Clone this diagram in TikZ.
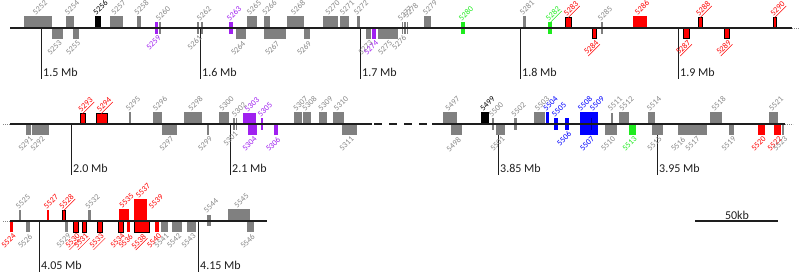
\documentclass[tikz,border=0pt]{standalone}
\usepackage{fontspec}
\setmainfont{Carlito}
\definecolor{ggray}{RGB}{128,128,128}
\definecolor{lgray}{RGB}{135,135,135}
\definecolor{pur}{RGB}{160,32,240}
\definecolor{grn}{RGB}{30,235,30}
\definecolor{blu}{RGB}{0,0,255}
\definecolor{dblu}{RGB}{0,0,150}
\definecolor{rd}{RGB}{255,0,0}
\definecolor{axc}{RGB}{30,30,30}
\tikzset{
  lab/.style={font=\fontsize{8.2}{9}\selectfont, inner sep=0pt, rotate=45, text=lgray},
  labu/.style={lab, anchor=base west, yshift=-1.2pt},
  labd/.style={lab, anchor=north east},
  gg/.style={fill=ggray},
  bk/.style={fill=black},
  pu/.style={fill=pur},
  grf/.style={fill=grn},
  bl/.style={fill=blu},
  rf/.style={fill=rd},
  rb/.style={fill=rd, draw=black, line width=0.8pt},
  axis/.style={draw=axc, line width=1.1pt},
  dots/.style={draw=lgray, line width=0.8pt, dash pattern=on 0.8pt off 1.2pt},
  tick/.style={draw=axc, line width=1pt},
  tl/.style={font=\fontsize{12}{13}\selectfont, inner sep=0pt, anchor=base west, text=axc},
}
\newcommand\gbox[5]{\fill[#5] (#1,#3) rectangle (#2,#4);}
\newcommand\labU[5]{\node[labu,#3] (n#4) at (#1,#2) {#5};}
\newcommand\labD[5]{\node[labd,#3] (n#4) at (#1,#2) {#5};}
\newcommand\tickmark[3]{\draw[tick] (#1,0) -- (#1,51); \node[tl] (t#2) at (#1+2,48) {#3};}
\begin{document}
\begin{tikzpicture}[x=1pt,y=-1pt]
\useasboundingbox (0,0) rectangle (800,273);
% ---------------- Row 1 ----------------
\begin{scope}[shift={(0,28)}]
\tickmark{41}{15}{1.5 Mb}
\tickmark{200}{16}{1.6 Mb}
\tickmark{360}{17}{1.7 Mb}
\tickmark{520}{18}{1.8 Mb}
\tickmark{678}{19}{1.9 Mb}
\gbox{24}{52}{-12}{0}{gg} \labU{35}{-13}{}{5252}{5252}
\gbox{52}{63}{0}{11}{gg} \labD{58.5}{12}{}{5253}{5253}
\gbox{66}{74}{-12}{0}{gg} \labU{67}{-13}{}{5254}{5254}
\gbox{73}{79}{0}{11}{gg} \labD{77}{12}{}{5255}{5255}
\gbox{95}{101}{-12}{0}{bk} \labU{95.5}{-13}{text=black}{5256}{5256}
\gbox{110}{123}{-12}{0}{gg} \labU{113.5}{-13}{}{5257}{5257}
\gbox{137}{141}{-12}{0}{gg} \labU{136.5}{-13}{}{5258}{5258}
\gbox{155}{158}{-6}{5.5}{pu} \labD{157.5}{6.5}{text=pur}{5259}{5259}
\gbox{159}{161}{-6}{5.5}{gg} \labU{158}{-7}{}{5260}{5260}
\gbox{196.5}{198.5}{-6}{5.5}{gg} \labD{198.5}{6.5}{}{5261}{5261}
\gbox{200.5}{202.5}{-6}{5.5}{gg} \labU{199}{-7}{}{5262}{5262}
\gbox{229}{233}{-6}{5.5}{pu} \labU{229}{-7}{text=pur}{5263}{5263}
\gbox{236}{246}{0}{11}{gg} \labD{242}{12}{}{5264}{5264}
\gbox{247}{257}{-12}{0}{gg} \labU{249}{-13}{}{5265}{5265}
\gbox{264}{270}{-12}{0}{gg} \labU{264.5}{-13}{}{5266}{5266}
\gbox{264}{286}{0}{11}{gg} \labD{276}{12}{}{5267}{5267}
\gbox{287}{304}{-12}{0}{gg} \labU{293}{-13}{}{5268}{5268}
\gbox{304}{310}{0}{11}{gg} \labD{308}{12}{}{5269}{5269}
\gbox{323}{338}{-12}{0}{gg} \labU{327.5}{-13}{}{5270}{5270}
\gbox{340}{349}{-12}{0}{gg} \labU{342}{-13}{}{5271}{5271}
\gbox{357}{359.5}{-12}{0}{gg} \labU{356}{-13}{}{5272}{5272}
\gbox{366}{371}{0}{11}{gg} \labD{369.5}{12}{}{5273}{5273}
\gbox{372}{376}{0}{11}{pu} \labD{375}{12}{text=pur}{5274}{5274}
\gbox{378}{398}{0}{11}{gg} \labD{389}{12}{}{5275}{5275}
\gbox{401.5}{403}{-6}{5.5}{gg} \labD{403}{6.5}{}{5276}{5276}
\gbox{404}{405.5}{-6}{5.5}{gg} \labU{400}{-7}{}{5277}{5277}
\gbox{406.5}{408}{-6}{5.5}{gg} \labU{406}{-10}{}{5278}{5278}
\gbox{424}{431}{-12}{0}{gg} \labU{425}{-13}{}{5279}{5279}
\gbox{461}{465}{-6}{5.5}{grf} \labU{461}{-7}{text=grn}{5280}{5280}
\gbox{523}{526}{-12}{0}{gg} \labU{522}{-13}{}{5281}{5281}
\gbox{548}{552}{-6}{5.5}{grf} \labU{548}{-7}{text=grn}{5282}{\underline{5282}}
\gbox{565}{571}{-11}{0}{rb} \labU{566}{-12}{text=rd}{5283}{\underline{5283}}
\gbox{592}{596}{0}{10}{rb} \labD{595}{11}{text=rd}{5284}{\underline{5284}}
\gbox{601}{603}{-6}{5.5}{gg} \labU{600}{-7}{}{5285}{5285}
\gbox{633}{647}{-12}{0}{rf} \labU{637}{-13}{text=rd}{5286}{5286}
\gbox{683}{689}{0}{10}{rb} \labD{687}{11}{text=rd}{5287}{\underline{5287}}
\gbox{698}{702}{-11}{0}{rb} \labU{698}{-12}{text=rd}{5288}{\underline{5288}}
\gbox{724}{729}{0}{10}{rb} \labD{727.5}{11}{text=rd}{5289}{\underline{5289}}
\gbox{773}{776}{-11}{0}{rb} \labU{772.5}{-12}{text=rd}{5290}{\underline{5290}}
\coordinate (a1s) at (10,0); \coordinate (a1e) at (792,0); \coordinate (a1d) at (800,0);
\draw[axis] (a1s) -- (a1e);
\draw[dots] (a1e) -- (a1d);
\end{scope}
% ---------------- Row 2 ----------------
\begin{scope}[shift={(0,124)}]
\tickmark{71}{20}{2.0 Mb}
\tickmark{230}{21}{2.1 Mb}
\tickmark{498}{385}{3.85 Mb}
\tickmark{657}{395}{3.95 Mb}
\gbox{26}{31}{0}{11}{gg} \labD{29.5}{12}{}{5291}{5291}
\gbox{32}{49}{0}{11}{gg} \labD{41.5}{12}{}{5292}{5292}
\gbox{80}{85}{-11}{0}{rb} \labU{80.5}{-12}{text=rd}{5293}{\underline{5293}}
\gbox{96}{107}{-11}{0}{rb} \labU{99}{-12}{text=rd}{5294}{\underline{5294}}
\gbox{129}{131}{-12}{0}{gg} \labU{128}{-13}{}{5295}{5295}
\gbox{153}{162}{-12}{0}{gg} \labU{155}{-13}{}{5296}{5296}
\gbox{162}{177}{0}{11}{gg} \labD{170.5}{12}{}{5297}{5297}
\gbox{184}{202}{-12}{0}{gg} \labU{190.5}{-13}{}{5298}{5298}
\gbox{207}{209}{0}{11}{gg} \labD{209}{12}{}{5299}{5299}
\gbox{219}{229}{-12}{0}{gg} \labU{221.5}{-13}{}{5300}{5300}
\gbox{233}{234.5}{-6}{5.5}{gg} \labD{234.5}{6.5}{}{5301}{5301}
\gbox{235.5}{237}{-6}{5.5}{gg} \labU{234}{-7}{}{5302}{5302}
\gbox{243}{256}{-11}{0}{pu} \labU{247}{-12}{text=pur}{5303}{5303}
\gbox{248}{257}{0}{11}{pu} \labD{253.5}{12}{text=pur}{5304}{5304}
\gbox{261}{263}{-6}{5.5}{pu} \labU{260}{-7}{text=pur}{5305}{5305}
\gbox{274}{278}{0}{11}{pu} \labD{277}{12}{text=pur}{5306}{5306}
\gbox{294}{302}{-12}{0}{gg} \labU{295.5}{-13}{}{5307}{5307}
\gbox{303}{311}{-12}{0}{gg} \labU{304.5}{-13}{}{5308}{5308}
\gbox{319}{327}{-12}{0}{gg} \labU{320.5}{-13}{}{5309}{5309}
\gbox{333}{344}{-12}{0}{gg} \labU{336}{-13}{}{5310}{5310}
\gbox{342}{357}{0}{11}{gg} \labD{350.5}{12}{}{5311}{5311}
\gbox{443}{457}{-12}{0}{gg} \labU{447.5}{-13}{}{5497}{5497}
\gbox{451}{462}{0}{11}{gg} \labD{457.5}{12}{}{5498}{5498}
\gbox{481}{489}{-12}{0}{bk} \labU{482.5}{-13}{text=black}{5499}{5499}
\gbox{492}{494}{-6}{5.5}{gg} \labU{491}{-7}{}{5500}{5500}
\gbox{496}{505}{0}{11}{gg} \labD{501.5}{12}{}{5501}{5501}
\gbox{514}{517}{-6}{5.5}{gg} \labU{513.5}{-7}{}{5502}{5502}
\gbox{534}{545}{-12}{0}{gg} \labU{537}{-13}{}{5503}{5503}
\gbox{546}{549}{-12}{0}{bl} \labU{545.5}{-13}{text=blu}{5504}{5504}
\gbox{554}{558}{-6}{5.5}{bl} \labU{554}{-7}{text=blu}{5505}{5505}
\gbox{565}{569}{-6}{5.5}{bl} \labD{568}{6.5}{text=blu}{5506}{5506}
\gbox{580}{598}{-12}{11}{bl}
\labU{580}{-13}{text=blu}{5508}{5508}
\labU{592}{-13}{text=blu}{5509}{5509}
\labD{591}{12}{text=blu}{5507}{5507}
\draw[dblu, line width=0.6pt] (591.5,-6) -- (591.5,6);
\gbox{605}{617}{0}{11}{gg} \labD{612}{12}{}{5510}{5510}
\gbox{611}{612.5}{-11}{0}{gg} \labU{610}{-13}{}{5511}{5511}
\gbox{619}{629}{-12}{0}{gg} \labU{621.5}{-13}{}{5512}{5512}
\gbox{629}{636}{0}{11}{grf} \labD{633.5}{12}{text=grn}{5513}{5513}
\gbox{648}{655}{-12}{0}{gg} \labU{649}{-13}{}{5514}{5514}
\gbox{652}{663}{0}{11}{gg} \labD{658.5}{12}{}{5515}{5515}
\gbox{678}{684}{0}{11}{gg} \labD{682}{12}{}{5516}{5516}
\gbox{684}{707}{0}{11}{gg} \labD{696.5}{12}{}{5517}{5517}
\gbox{710}{722}{-12}{0}{gg} \labU{713.5}{-13}{}{5518}{5518}
\gbox{729}{734}{0}{11}{gg} \labD{732.5}{12}{}{5519}{5519}
\gbox{758}{765}{0}{11}{rf} \labD{762.5}{12}{text=rd}{5520}{5520}
\gbox{769}{778}{-12}{0}{gg} \labU{771}{-13}{}{5521}{5521}
\gbox{774}{781}{0}{11}{rf} \labD{778.5}{12}{text=rd}{5522}{5522}
\gbox{782}{784}{0}{11}{gg} \labD{784}{12}{}{5523}{5523}
\coordinate (a2d) at (3,0); \coordinate (a2s) at (10,0); \coordinate (a2m) at (372,0);
\coordinate (a2n) at (432,0); \coordinate (a2e) at (785,0); \coordinate (a2f) at (793,0);
\draw[dots] (a2d) -- (a2s);
\draw[axis] (a2s) -- (a2m);
\draw[axis, dash pattern=on 8pt off 7pt] (374,0) -- (a2n);
\draw[axis] (a2n) -- (a2e);
\draw[dots] (a2e) -- (a2f);
\end{scope}
% ---------------- Row 3 ----------------
\begin{scope}[shift={(0,221)}]
\tickmark{39}{405}{4.05 Mb}
\tickmark{198}{415}{4.15 Mb}
\gbox{10}{13}{0}{11}{rf} \labD{12.5}{12}{text=rd}{5524}{5524}
\gbox{19}{21}{-11}{0}{gg} \labU{18}{-12}{}{5525}{5525}
\gbox{26}{30}{0}{11}{gg} \labD{29}{12}{}{5526}{5526}
\gbox{47}{49}{-11}{0}{rf} \labU{46}{-12}{text=rd}{5527}{5527}
\gbox{62}{65}{-11}{0}{rb} \labU{61.5}{-12}{text=rd}{5528}{\underline{5528}}
\gbox{65}{68}{0}{11}{gg} \labD{67.5}{12}{}{5529}{5529}
\gbox{73}{78}{0}{11}{rb} \labD{76.5}{12}{text=rd}{5530}{\underline{5530}}
\gbox{82}{86}{0}{11}{rb} \labD{85}{12}{text=rd}{5531}{\underline{5531}}
\gbox{88}{91}{-11}{0}{gg} \labU{87.5}{-12}{}{5532}{5532}
\gbox{97}{102}{0}{11}{rb} \labD{100.5}{12}{text=rd}{5533}{\underline{5533}}
\gbox{119}{129}{-12}{0}{rf} \labU{121.5}{-13}{text=rd}{5535}{5535}
\gbox{118}{123}{0}{11}{rb} \labD{121.5}{12}{text=rd}{5534}{5534}
\gbox{127}{130}{0}{11}{rf} \labD{129.5}{12}{text=rd}{5536}{5536}
\gbox{134}{147}{-22}{0}{rf} \labU{138}{-23}{text=rd}{5537}{5537}
\gbox{134}{149}{0}{11}{rb} \labD{142.5}{12}{text=rd}{5538}{\underline{5538}}
\labU{151}{-12}{text=rd}{5539}{5539}
\gbox{155}{159}{0}{11}{rf} \labD{158}{12}{text=rd}{5540}{5540}
\gbox{161}{168}{0}{11}{gg} \labD{165.5}{12}{}{5541}{5541}
\gbox{172}{182}{0}{11}{gg} \labD{178}{12}{}{5542}{5542}
\gbox{187}{196}{0}{11}{gg} \labD{192.5}{12}{}{5543}{5543}
\gbox{207}{211}{-6}{5}{gg} \labU{206}{-8}{}{5544}{5544}
\gbox{228}{250}{-12}{0}{gg} \labU{236.5}{-13}{}{5545}{5545}
\gbox{247}{254}{0}{11}{gg} \labD{251.5}{12}{}{5546}{5546}
\coordinate (a3d) at (3,0); \coordinate (a3s) at (10,0); \coordinate (a3e) at (267,0);
\draw[dots] (a3d) -- (a3s);
\draw[axis] (a3s) -- (a3e);
% scale bar
\coordinate (sb1) at (695,0); \coordinate (sb2) at (778,0);
\draw[axis] (sb1) -- (sb2);
\node[font=\fontsize{12}{13}\selectfont, inner sep=0pt, anchor=base, text=axc] (sbl) at (737,-2) {50kb};
\end{scope}
\end{tikzpicture}
\end{document}
